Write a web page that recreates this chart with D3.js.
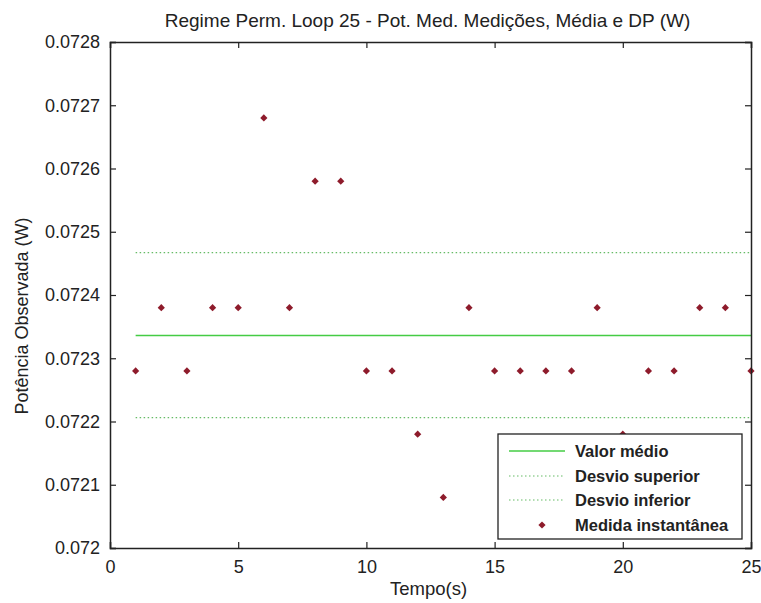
<!DOCTYPE html>
<html>
<head>
<meta charset="utf-8">
<script src="https://cdn.jsdelivr.net/npm/d3@7"></script>
<style>
  body { margin: 0; background: #fff; }
  text { font-family: "Liberation Sans", Arial, sans-serif; fill: #222; }
</style>
</head>
<body>
<div id="canvas"></div>
<script>
// readings per second
var tempos = [1,2,3,4,5,6,7,8,9,10,11,12,13,14,15,16,17,18,19,20,21,22,23,24,25];
var potencias = [0.07228,0.07238,0.07228,0.07238,0.07238,0.07268,0.07238,0.07258,0.07258,0.07228,
                 0.07228,0.07218,0.07208,0.07238,0.07228,0.07228,0.07228,0.07228,0.07238,0.07218,
                 0.07228,0.07228,0.07238,0.07238,0.07228];
var valorMedio = [0.072336, 0.072336];
var desvioSup = [0.072467, 0.072467];
var desvioInf = [0.072206, 0.072206];
var lineX = [1, 25];
var xTicks = [0, 5, 10, 15, 20, 25];
var yTicks = [0.072, 0.0721, 0.0722, 0.0723, 0.0724, 0.0725, 0.0726, 0.0727, 0.0728];
var legendLabels = ["Valor médio", "Desvio superior", "Desvio inferior", "Medida instantânea"];

(function() {
  var width = 761, height = 603;
  var mLeft = 110, mRight = 751, mTop = 42, mBottom = 548;
  var svg = d3.select("#canvas").append("svg").attr("width", width).attr("height", height);

  var x = d3.scaleLinear().domain([0, 25]).range([mLeft, mRight]);
  var y = d3.scaleLinear().domain([0.072, 0.0728]).range([mBottom, mTop]);

  // dotted / solid reference lines
  var line = d3.line().x(function(d) { return x(d[0]); }).y(function(d) { return y(d[1]); });
  var pairs = function(vals) { return lineX.map(function(v, i) { return [v, vals[i]]; }); };

  svg.append("path").attr("d", line(pairs(desvioSup)))
    .attr("fill", "none").attr("stroke", "#66bb66").attr("stroke-width", 1.2).attr("stroke-dasharray", "1.5,2.5");
  svg.append("path").attr("d", line(pairs(desvioInf)))
    .attr("fill", "none").attr("stroke", "#66bb66").attr("stroke-width", 1.2).attr("stroke-dasharray", "1.5,2.5");
  svg.append("path").attr("d", line(pairs(valorMedio)))
    .attr("fill", "none").attr("stroke", "#44cc44").attr("stroke-width", 1.6);

  // matlab style small diamond marker (rotated square)
  var marker = d3.symbol().type(d3.symbolSquare).size(26);
  svg.selectAll(".pt").data(tempos).enter().append("path")
    .attr("class", "pt")
    .attr("d", marker)
    .attr("transform", function(d, i) { return "translate(" + x(d) + "," + y(potencias[i]) + ") rotate(45)"; })
    .attr("fill", "#8e1b2b");

  // axes, ticks pointing inward like matlab
  var axBottom = svg.append("g").attr("transform", "translate(0," + mBottom + ")")
    .call(d3.axisBottom(x).tickValues(xTicks).tickSize(-6).tickPadding(12).tickFormat(d3.format("d")));
  var axTop = svg.append("g").attr("transform", "translate(0," + mTop + ")")
    .call(d3.axisTop(x).tickValues(xTicks).tickSize(-6).tickFormat(""));
  var axLeft = svg.append("g").attr("transform", "translate(" + mLeft + ",0)")
    .call(d3.axisLeft(y).tickValues(yTicks).tickSize(-6).tickPadding(10).tickFormat(function(d) { return +d.toFixed(4); }));
  var axRight = svg.append("g").attr("transform", "translate(" + mRight + ",0)")
    .call(d3.axisRight(y).tickValues(yTicks).tickSize(-6).tickFormat(""));

  [axBottom, axTop, axLeft, axRight].forEach(function(a) {
    a.select(".domain").attr("stroke", "#222").attr("stroke-width", 1.5);
    a.selectAll(".tick line").attr("stroke", "#222").attr("stroke-width", 1.2);
    a.selectAll(".tick text").style("font-size", "18px").style("fill", "#222")
      .style("font-family", "'Liberation Sans', Arial, sans-serif");
  });

  svg.append("text").attr("x", (mLeft + mRight) / 2 - 3).attr("y", 27)
    .attr("text-anchor", "middle").style("font-size", "19px")
    .text("Regime Perm. Loop 25 - Pot. Med. Medições, Média e DP (W)");
  svg.append("text").attr("x", (mLeft + mRight) / 2 - 2).attr("y", 595)
    .attr("text-anchor", "middle").style("font-size", "18.5px")
    .text("Tempo(s)");
  svg.append("text").attr("transform", "translate(28,316) rotate(-90)")
    .attr("text-anchor", "middle").style("font-size", "18px")
    .text("Potência Observada (W)");

  // legend
  var lg = svg.append("g");
  lg.append("rect").attr("x", 498).attr("y", 434).attr("width", 244).attr("height", 105)
    .attr("fill", "#fff").attr("stroke", "#222").attr("stroke-width", 1.3);
  var rowsY = [451, 476, 500, 525];
  legendLabels.forEach(function(lbl, i) {
    var ry = rowsY[i];
    if (i === 0) {
      lg.append("line").attr("x1", 509).attr("x2", 565).attr("y1", ry).attr("y2", ry)
        .attr("stroke", "#44cc44").attr("stroke-width", 1.6);
    } else if (i < 3) {
      lg.append("line").attr("x1", 509).attr("x2", 565).attr("y1", ry).attr("y2", ry)
        .attr("stroke", "#66bb66").attr("stroke-width", 1.2).attr("stroke-dasharray", "1.5,2.5");
    } else {
      lg.append("path").attr("d", marker).attr("transform", "translate(542," + ry + ") rotate(45)").attr("fill", "#8e1b2b");
    }
    lg.append("text").attr("x", 575).attr("y", ry + 6).style("font-size", "16.5px")
      .style("font-weight", "bold").style("fill", "#222").text(lbl);
  });
})();
</script>
</body>
</html>
